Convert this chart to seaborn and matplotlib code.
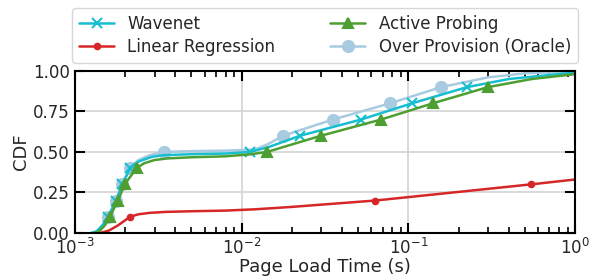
import numpy as np
import pandas as pd
import seaborn as sns
import matplotlib.pyplot as plt

# CDF curves (x = page load time in s, y = CDF)
wavenet_x = [1.25e-3, 1.35e-3, 1.47e-3, 1.58e-3, 1.77e-3, 1.92e-3, 2.15e-3, 2.4e-3, 2.9e-3,
             3.4e-3, 5e-3, 8e-3, 0.0112, 0.0145, 0.0224, 0.052, 0.105, 0.225, 0.4, 1.0]
wavenet_y = [0, 0.01, 0.05, 0.1, 0.2, 0.3, 0.4, 0.44, 0.47, 0.48, 0.486, 0.49, 0.5, 0.53,
             0.6, 0.7, 0.8, 0.9, 0.95, 0.99]

linreg_x = [1.42e-3, 1.6e-3, 1.8e-3, 1.95e-3, 2.14e-3, 2.4e-3, 2.8e-3, 3.5e-3, 5e-3, 8e-3,
            0.012, 0.0195, 0.063, 0.15, 0.545, 1.0]
linreg_y = [0, 0.015, 0.045, 0.07, 0.1, 0.115, 0.124, 0.13, 0.134, 0.138, 0.146, 0.16,
            0.2, 0.24, 0.3, 0.33]

probing_x = [1.3e-3, 1.4e-3, 1.52e-3, 1.62e-3, 1.81e-3, 1.99e-3, 2.34e-3, 2.6e-3, 3.0e-3,
             3.6e-3, 5e-3, 8e-3, 0.0112, 0.0142, 0.0299, 0.0686, 0.14, 0.30, 0.55, 1.0]
probing_y = [0, 0.01, 0.05, 0.1, 0.2, 0.3, 0.4, 0.43, 0.45, 0.46, 0.467, 0.473, 0.485, 0.5,
             0.6, 0.7, 0.8, 0.9, 0.95, 0.98]

oracle_x = [1.25e-3, 1.35e-3, 1.47e-3, 1.58e-3, 1.76e-3, 1.91e-3, 2.14e-3, 2.4e-3, 2.8e-3,
            3.42e-3, 5e-3, 8e-3, 0.012, 0.0145, 0.0177, 0.0353, 0.0776, 0.157, 0.3, 0.5, 1.0]
oracle_y = [0, 0.01, 0.05, 0.1, 0.2, 0.3, 0.4, 0.45, 0.48, 0.5, 0.505, 0.508, 0.515, 0.55,
            0.6, 0.7, 0.8, 0.9, 0.96, 0.985, 0.995]

# markers sit on these CDF levels
wavenet_levels = [0.1, 0.2, 0.3, 0.4, 0.5, 0.6, 0.7, 0.8, 0.9]
linreg_levels = [0.1, 0.2, 0.3]
probing_levels = [0.1, 0.2, 0.3, 0.4, 0.5, 0.6, 0.7, 0.8, 0.9]
oracle_levels = [0.1, 0.2, 0.3, 0.4, 0.5, 0.6, 0.7, 0.8, 0.9]


def mark_idx(ys, levels):
    return [i for i, v in enumerate(ys) if any(abs(v - l) < 1e-9 for l in levels)]


sns.set_style("ticks", {"axes.grid": True, "grid.color": "#d3d3d3",
                        "axes.edgecolor": "black",
                        "xtick.direction": "in", "ytick.direction": "in"})
plt.rcParams['font.family'] = ['DejaVu Sans']
plt.rcParams['xtick.top'] = True
plt.rcParams['ytick.right'] = True

fig = plt.figure(figsize=(5.9, 2.78), dpi=100)
ax = fig.add_axes([0.127, 0.162, 0.848, 0.583])

series = [
    ("Wavenet", wavenet_x, wavenet_y, wavenet_levels, "#17becf", "x", 7),
    ("Linear Regression", linreg_x, linreg_y, linreg_levels, "#d62728", "o", 4),
    ("Active Probing", probing_x, probing_y, probing_levels, "#4e9f32", "^", 7.5),
    ("Over Provision (Oracle)", oracle_x, oracle_y, oracle_levels, "#a8cbe2", "o", 8),
]
# oracle drawn first so it sits under the others; legend keeps the original order
order = [3, 0, 2, 1]
handles = {}
for i in order:
    name, xs, ys, lv, col, mk, ms = series[i]
    sns.lineplot(x=xs, y=ys, ax=ax, color=col, marker=mk, markersize=ms,
                 markevery=mark_idx(ys, lv), linewidth=1.8, markeredgewidth=1.5,
                 markeredgecolor=col, label=name, sort=False, estimator=None)
    handles[name] = ax.get_lines()[-1]

ax.set_xscale("log")
ax.set_xlim(1e-3, 1)
ax.set_ylim(0, 1)
ax.set_yticks([0, 0.25, 0.5, 0.75, 1.0])
ax.set_yticklabels(["0.00", "0.25", "0.50", "0.75", "1.00"])
ax.grid(True, which="major", color="#d3d3d3", linewidth=1.2)
ax.grid(False, which="minor")
ax.tick_params(which="major", length=7, width=1.5, labelsize=12, colors="black",
               labelcolor="#262626")
ax.tick_params(which="minor", length=4, width=1.2, colors="black")
for s in ax.spines.values():
    s.set_linewidth(1.5)
ax.set_xlabel("Page Load Time (s)", fontsize=13, color="#262626", labelpad=0)
ax.set_ylabel("CDF", fontsize=13, color="#262626", labelpad=2)

names = [s[0] for s in series]
ax.legend([handles[n] for n in names], names, loc="lower center",
          bbox_to_anchor=(0.5, 1.05), ncol=2, columnspacing=3.3,
          borderaxespad=0, fontsize=12, frameon=True, edgecolor="#cccccc",
          handlelength=2.1, labelspacing=0.3)

fig.savefig("out.png", dpi=100)
